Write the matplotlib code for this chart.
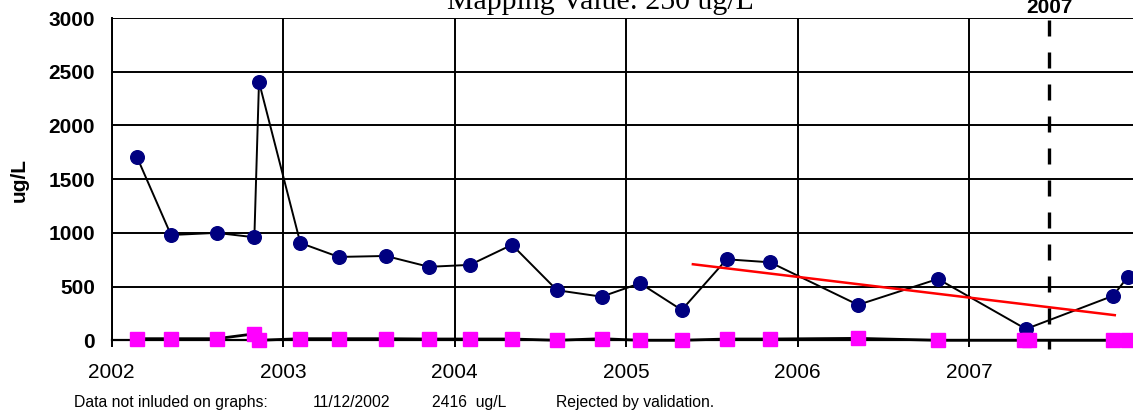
import matplotlib
matplotlib.use("Agg")
import matplotlib.pyplot as plt

# ---- data ----
dates = [2002.149, 2002.347, 2002.613, 2002.833, 2002.860, 2003.101, 2003.325,
         2003.600, 2003.851, 2004.090, 2004.335, 2004.598, 2004.858, 2005.082,
         2005.325, 2005.587, 2005.840, 2006.353, 2006.819, 2007.332, 2007.840,
         2007.927]
conc = [1704, 980, 1000, 959, 2405, 906, 776, 785, 684, 702, 889, 466, 406,
        531, 282, 754, 726, 330, 571, 105, 414, 593]

sq_dates = [2002.149, 2002.347, 2002.613, 2002.833, 2002.860, 2003.101, 2003.325,
            2003.600, 2003.851, 2004.090, 2004.335, 2004.598, 2004.858, 2005.082,
            2005.325, 2005.587, 2005.840, 2006.353, 2006.819, 2007.318, 2007.350,
            2007.840, 2007.927]
sq_vals = [15, 15, 15, 60, 0, 15, 15, 15, 12, 12, 12, 0, 15, 0, 0, 12, 12, 18,
           0, 0, 0, 0, 0]

trend_x = [2005.39, 2007.85]
trend_y = [708, 234]

cutoff_year = 2007.467
cutoff_label = "2007"

year_ticks = [2002, 2003, 2004, 2005, 2006, 2007, 2008]
year_labels = ["2002", "2003", "2004", "2005", "2006", "2007", ""]
y_ticks = [0, 500, 1000, 1500, 2000, 2500, 3000]

title = "Mapping Value: 250 ug/L"
ylabel = "ug/L"
note_parts = ["Data not inluded on graphs:", "11/12/2002", "2416  ug/L",
              "Rejected by validation."]

# ---- figure ----
W, H = 1133, 413
fig = plt.figure(figsize=(W / 100, H / 100), dpi=100)
plt.rcParams['font.family'] = ['Liberation Sans', 'DejaVu Sans']

left_px, right_px = 111.5, 1140.5
top_px, bottom_px = 18.0, 340.3
ax = fig.add_axes([left_px / W, (H - bottom_px) / H,
                   (right_px - left_px) / W, (bottom_px - top_px) / H])

ax.set_xlim(2002, 2008)
ax.set_ylim(0, 3000)
ax.set_xticks(year_ticks)
ax.set_xticklabels(year_labels)
ax.set_yticks(y_ticks)
ax.set_yticklabels([str(v) for v in y_ticks], fontweight='bold')
ax.tick_params(axis='x', length=5, width=1.4, direction='out', pad=11, labelsize=15)
ax.tick_params(axis='y', length=0, pad=12, labelsize=15)
ax.grid(True, color='black', linewidth=1.4)
ax.set_axisbelow(True)
for s in ['top', 'right']:
    ax.spines[s].set_visible(False)
ax.spines['left'].set_linewidth(1.4)
ax.spines['bottom'].set_linewidth(1.6)

# main series
ax.plot(dates, conc, color='black', linewidth=1.4, zorder=3)
ax.plot(dates, conc, linestyle='none', marker='o', markersize=9.8,
        markerfacecolor='#000080', markeredgecolor='#000080', zorder=4, clip_on=False)

# second series
ax.plot(sq_dates, sq_vals, color='black', linewidth=2.0, zorder=3, clip_on=False)
ax.plot(sq_dates, sq_vals, linestyle='none', marker='s', markersize=9.6,
        markerfacecolor='#FF00FF', markeredgecolor='#FF00FF', zorder=5, clip_on=False)

# trend line
ax.plot(trend_x, trend_y, color='#FF0000', linewidth=1.8, zorder=4)

# cutoff dashed line
ln, = ax.plot([cutoff_year, cutoff_year], [2980, -80], color='black',
              linewidth=2.4, zorder=4, clip_on=False)
ln.set_dashes([4.8, 4.8])
ax.annotate(cutoff_label, xy=(cutoff_year, 3000), xytext=(0, 3.5),
            textcoords='offset points', ha='center', va='baseline',
            fontsize=15, fontweight='bold', annotation_clip=False)

# title (partially cut at top, as in the reference)
fig.text(600 / W, 1 - 9 / H, title, ha='center', va='baseline',
         fontsize=21.5, family=['Liberation Serif', 'DejaVu Serif'])

# y label
fig.text(19 / W, 1 - 180 / H, ylabel, rotation=90, ha='center', va='center',
         fontsize=15, fontweight='bold')

# footnote
note_x = [74, 313, 432, 556]
for xp, t in zip(note_x, note_parts):
    fig.text(xp / W, 6.3 / H, t, ha='left', va='baseline', fontsize=11.3)

fig.savefig("out.png", dpi=100)
